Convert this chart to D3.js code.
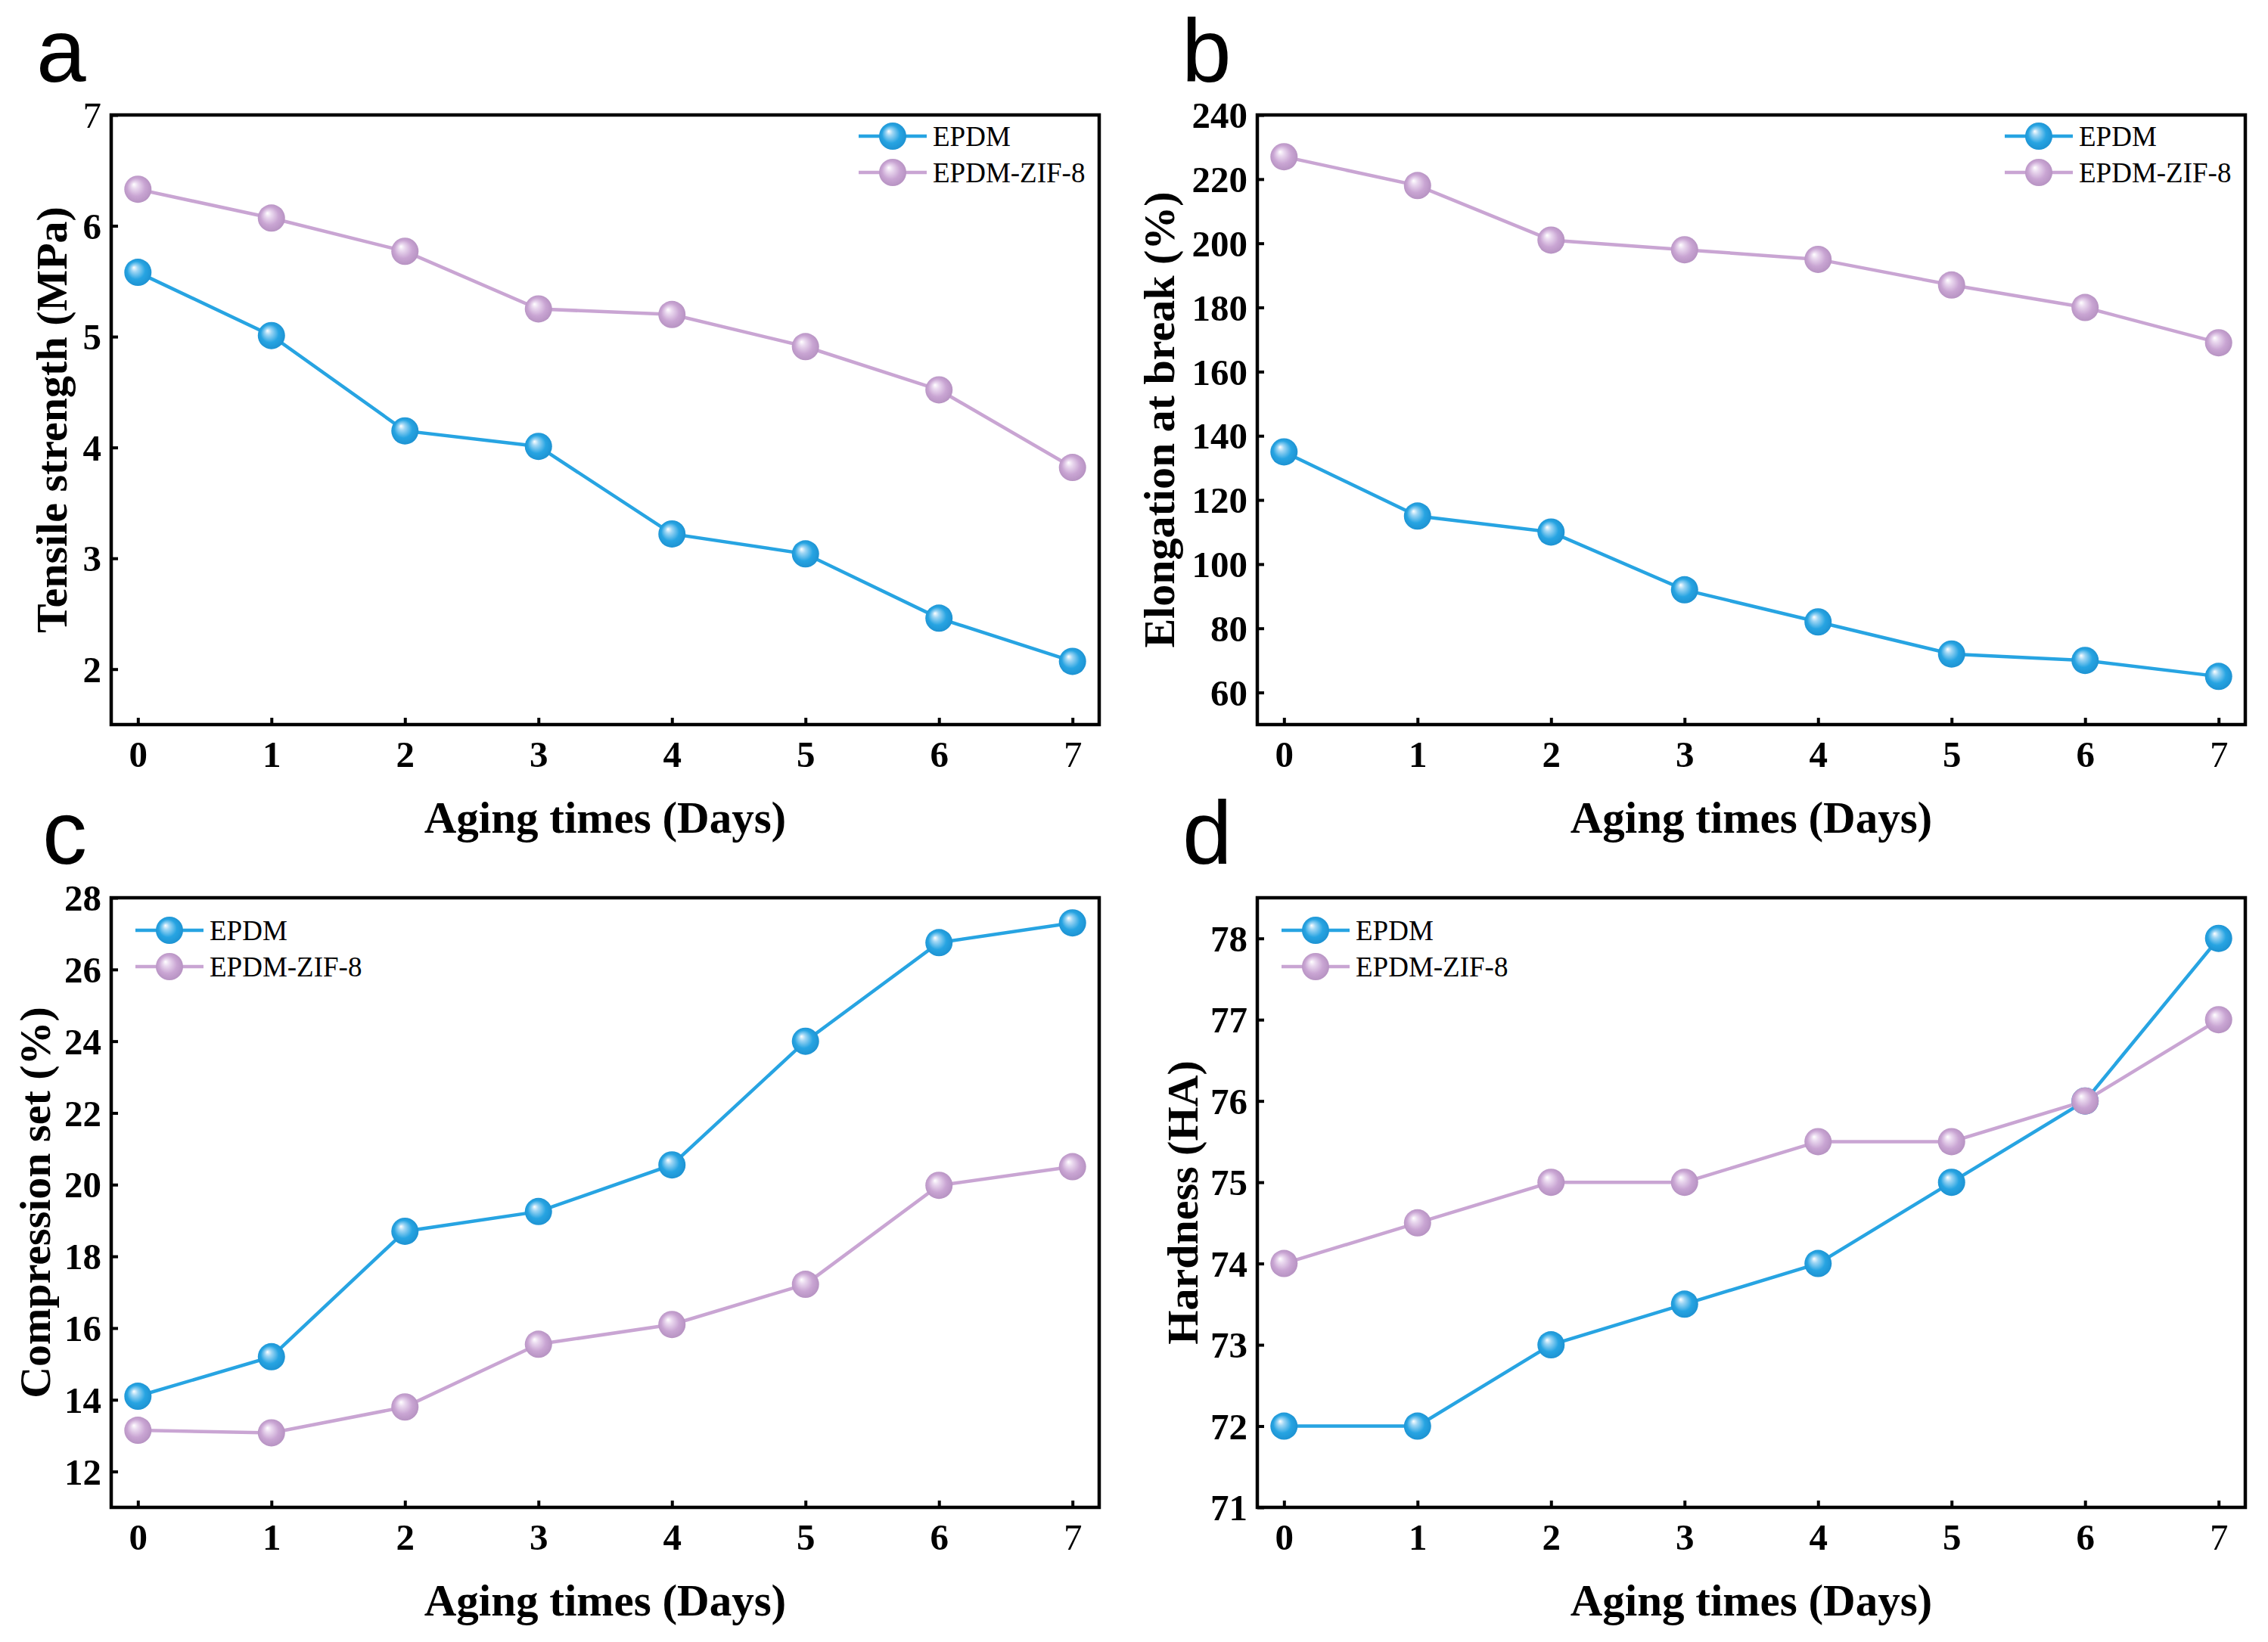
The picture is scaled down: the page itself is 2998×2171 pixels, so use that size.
<!DOCTYPE html>
<meta charset="utf-8">
<script src="https://d3js.org/d3.v7.min.js"></script>
<style>
  body { margin: 0; background: #fff; }
  .tick text { font-family: "Liberation Serif", "Times New Roman", serif; font-weight: bold; }
</style>
<div id="fig"></div>
<script>

// aging time (days)
var days = [0, 1, 2, 3, 4, 5, 6, 7];
var seriesNames = ["EPDM", "EPDM-ZIF-8"];

// a - tensile strength (MPa)
var tensileEPDM = [5.58, 5.01, 4.15, 4.01, 3.22, 3.04, 2.46, 2.07];
var tensileZIF  = [6.33, 6.07, 5.77, 5.25, 5.20, 4.91, 4.52, 3.82];
// b - elongation at break (%)
var elongEPDM = [135, 115, 110, 92, 82, 72, 70, 65];
var elongZIF  = [227, 218, 201, 198, 195, 187, 180, 169];
// c - compression set (%)
var compEPDM = [14.1, 15.2, 18.7, 19.25, 20.55, 24.0, 26.75, 27.3];
var compZIF  = [13.15, 13.08, 13.8, 15.55, 16.1, 17.22, 19.98, 20.5];
// d - hardness (HA)
var hardEPDM = [72, 72, 73, 73.5, 74, 75, 76, 78];
var hardZIF  = [74, 74.5, 75, 75, 75.5, 75.5, 76, 77];

// tick labels
var xTicks = [0, 1, 2, 3, 4, 5, 6, 7];
var yTicksA = [2, 3, 4, 5, 6, 7];
var yTicksB = [60, 80, 100, 120, 140, 160, 180, 200, 220, 240];
var yTicksC = [12, 14, 16, 18, 20, 22, 24, 26, 28];
var yTicksD = [71, 72, 73, 74, 75, 76, 77, 78];

var colors = ["#27a4e2", "#c9a5d3"];
var serif = "'Liberation Serif', 'Times New Roman', serif";

var svg = d3.select("#fig")
  .append("svg")
    .attr("width", 2998)
    .attr("height", 2171);

// sphere-like gradients for markers
var defs = svg.append("defs");
var grads = [
  {id: "gBlue", light: "#9fd6f4", base: "#27a4e2", dark: "#1b8fcf"},
  {id: "gPurple", light: "#ead9ef", base: "#c9a5d3", dark: "#b38fbf"}
];
grads.forEach(function(g) {
  var rg = defs.append("radialGradient")
    .attr("id", g.id)
    .attr("cx", "50%").attr("cy", "50%").attr("r", "55%")
    .attr("fx", "35%").attr("fy", "32%");
  rg.append("stop").attr("offset", "0%").attr("stop-color", "#ffffff");
  rg.append("stop").attr("offset", "22%").attr("stop-color", g.light);
  rg.append("stop").attr("offset", "60%").attr("stop-color", g.base);
  rg.append("stop").attr("offset", "100%").attr("stop-color", g.dark);
});
var fills = ["url(#gBlue)", "url(#gPurple)"];

var panels = [
  {label: "a", lx: 48, ly: 108, left: 147, top: 152, yDom: [1.5, 7], yTicks: yTicksA,
   data: [tensileEPDM, tensileZIF], ytitle: "Tensile strength (MPa)", titleX: 88, legend: "right", legTop: 28},
  {label: "b", lx: 1562, ly: 108, left: 1662, top: 152, yDom: [50, 240], yTicks: yTicksB,
   data: [elongEPDM, elongZIF], ytitle: "Elongation at break (%)", titleX: 1552, legend: "right", legTop: 28},
  {label: "c", lx: 56, ly: 1142, left: 147, top: 1187, yDom: [11, 28], yTicks: yTicksC,
   data: [compEPDM, compZIF], ytitle: "Compression set (%)", titleX: 66, legend: "left", legTop: 43},
  {label: "d", lx: 1563, ly: 1142, left: 1662, top: 1187, yDom: [71, 78.5], yTicks: yTicksD,
   data: [hardEPDM, hardZIF], ytitle: "Hardness (HA)", titleX: 1583, legend: "left", legTop: 43}
];

var pw = 1306, ph = 806;

panels.forEach(function(p) {
  var g = svg.append("g")
    .attr("transform", "translate(" + p.left + "," + p.top + ")");

  var x = d3.scaleLinear().domain([-0.2, 7.2]).range([0, pw]);
  var y = d3.scaleLinear().domain(p.yDom).range([ph, 0]);

  // panel letter
  svg.append("text")
    .attr("x", p.lx).attr("y", p.ly)
    .style("font-family", "'Liberation Sans', Arial, sans-serif")
    .style("font-size", "118px")
    .text(p.label);

  // X axis (ticks pointing in)
  var xa = g.append("g")
    .attr("transform", "translate(0," + ph + ")")
    .call(d3.axisBottom(x).tickValues(xTicks).tickSize(-9).tickPadding(21).tickFormat(d3.format("d")));
  // Y axis
  var ya = g.append("g")
    .call(d3.axisLeft(y).tickValues(p.yTicks).tickSize(-9).tickPadding(13).tickFormat(d3.format("d")));

  [xa, ya].forEach(function(a) {
    a.select(".domain").remove();
    a.selectAll(".tick line").attr("stroke", "#000").attr("stroke-width", 4);
    a.selectAll(".tick text")
      .style("font-size", "49px")
      .attr("fill", "#000")
      .style("font-weight", function(d) { return d === 7 ? "normal" : "bold"; });
  });
  xa.selectAll(".tick text").attr("dy", "0.71em");
  ya.selectAll(".tick text").attr("dy", "0.34em");

  // frame
  g.append("rect")
    .attr("width", pw).attr("height", ph)
    .attr("fill", "none")
    .attr("stroke", "#000")
    .attr("stroke-width", 4.5);

  // axis titles
  g.append("text")
    .attr("x", pw / 2).attr("y", ph + 143)
    .attr("text-anchor", "middle")
    .style("font-family", serif).style("font-weight", "bold").style("font-size", "59px")
    .text("Aging times (Days)");
  svg.append("text")
    .attr("transform", "translate(" + p.titleX + "," + (p.top + ph / 2) + ") rotate(-90)")
    .attr("text-anchor", "middle")
    .style("font-family", serif).style("font-weight", "bold").style("font-size", "58px")
    .text(p.ytitle);

  // lines + markers
  var line = d3.line()
    .x(function(d, i) { return x(days[i]); })
    .y(function(d) { return y(d); });

  p.data.forEach(function(vals, s) {
    g.append("path")
      .datum(vals)
      .attr("d", line)
      .attr("fill", "none")
      .attr("stroke", colors[s])
      .attr("stroke-width", 4.5);
  });
  p.data.forEach(function(vals, s) {
    g.selectAll(".pt" + s)
      .data(vals)
      .enter()
      .append("circle")
        .attr("cx", function(d, i) { return x(days[i]); })
        .attr("cy", function(d) { return y(d); })
        .attr("r", 18)
        .attr("fill", fills[s]);
  });

  // legend
  var mx = p.legend === "right" ? pw - 273 : 77;
  seriesNames.forEach(function(name, s) {
    var ry = p.legTop + s * 48;
    g.append("line")
      .attr("x1", mx - 45).attr("x2", mx + 45)
      .attr("y1", ry).attr("y2", ry)
      .attr("stroke", colors[s]).attr("stroke-width", 4.5);
    g.append("circle")
      .attr("cx", mx).attr("cy", ry).attr("r", 18)
      .attr("fill", fills[s]);
    g.append("text")
      .attr("x", mx + 53).attr("y", ry + 13)
      .style("font-family", serif).style("font-size", "37px")
      .text(name);
  });
});

</script>
